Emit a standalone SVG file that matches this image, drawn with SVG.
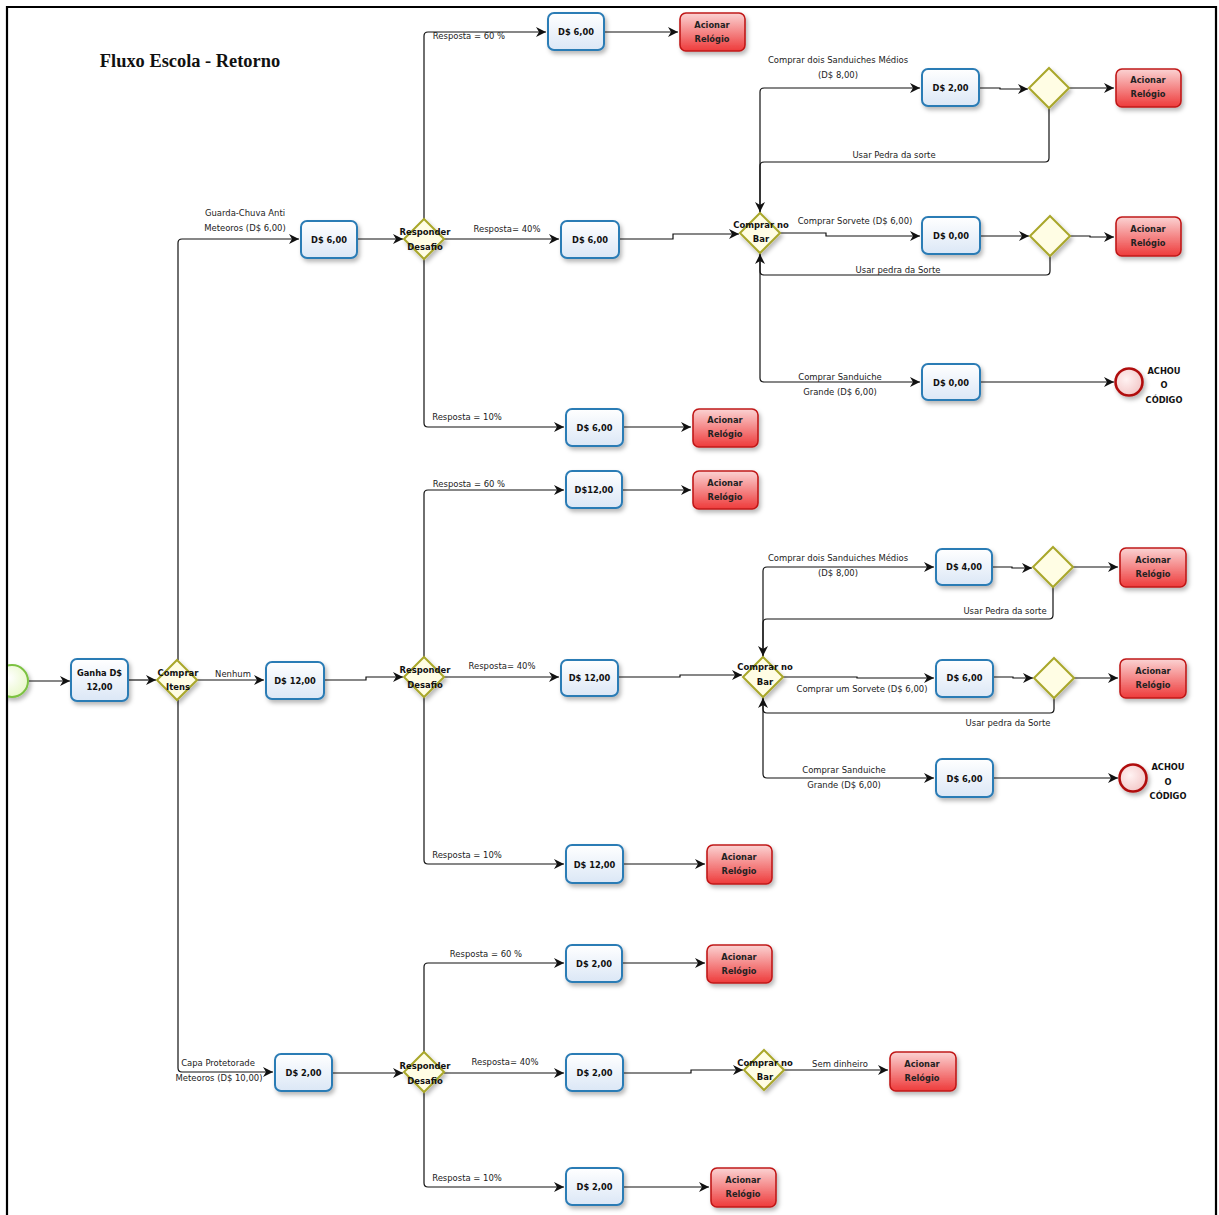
<svg xmlns="http://www.w3.org/2000/svg" width="1219" height="1215" viewBox="0 0 1219 1215">
<defs>
<linearGradient id="gTask" x1="0" y1="0" x2="0" y2="1"><stop offset="0" stop-color="#ffffff"/><stop offset="1" stop-color="#dbe7f6"/></linearGradient>
<linearGradient id="gRed" x1="0" y1="0" x2="0" y2="1"><stop offset="0" stop-color="#fbd3d3"/><stop offset="1" stop-color="#ee3a3a"/></linearGradient>
<radialGradient id="gStart" cx="0.4" cy="0.4" r="0.7"><stop offset="0" stop-color="#ffffff"/><stop offset="1" stop-color="#e6f7c4"/></radialGradient>
<radialGradient id="gEnd" cx="0.4" cy="0.4" r="0.7"><stop offset="0" stop-color="#fff2f2"/><stop offset="1" stop-color="#f2c4c4"/></radialGradient>
<filter id="sh" x="-20%" y="-20%" width="150%" height="160%"><feDropShadow dx="2" dy="3" stdDeviation="2" flood-color="#000" flood-opacity="0.28"/></filter>
<marker id="arr" viewBox="0 0 10 10" refX="10" refY="5" markerWidth="10" markerHeight="10" markerUnits="userSpaceOnUse" orient="auto"><path d="M0,0 L10,5 L0,10 L3,5 z" fill="#111"/></marker>
<clipPath id="frameClip"><rect x="8" y="8" width="1208" height="1207"/></clipPath>
</defs>
<style>
.task{fill:url(#gTask);stroke:#2b7bb5;stroke-width:2}
.red{fill:url(#gRed);stroke:#c01818;stroke-width:1.6}
.gw{fill:#fffde4;stroke:#a9a72b;stroke-width:2}
.tt{font-family:"DejaVu Sans Condensed","Liberation Sans",sans-serif;font-weight:bold;font-size:9.2px;fill:#111;text-anchor:middle}
.tr{font-family:"DejaVu Sans Condensed","Liberation Sans",sans-serif;font-weight:bold;font-size:9.2px;fill:#222;text-anchor:middle}
.lbl{font-family:"DejaVu Sans Condensed","Liberation Sans",sans-serif;font-size:9.4px;fill:#222;text-anchor:middle}
.gt{font-family:"DejaVu Sans Condensed","Liberation Sans",sans-serif;font-weight:bold;font-size:9.4px;fill:#111;text-anchor:middle}
.c{fill:none;stroke:#111;stroke-width:1.2;marker-end:url(#arr)}
</style>
<rect width="1219" height="1215" fill="#fff"/>
<g id="frame" fill="none" stroke="#000" stroke-width="2.2">
<path d="M7,1215 V7 H1216 V1215"/>
</g>
<text id="title" x="190" y="67" font-family="Liberation Serif,serif" font-weight="bold" font-size="18.4" text-anchor="middle" fill="#111">Fluxo Escola - Retorno</text>

<g id="connectors">
<path class="c" d="M29,681 H70"/>
<path class="c" d="M128,680 H156"/>
<path class="c" d="M178,660 V243 Q178,239 182,239 H299"/>
<path class="c" d="M197,680 H264"/>
<path class="c" d="M178,700 V1068 Q178,1072 182,1072 H273"/>
<path class="c" d="M357,239 H403"/>
<path class="c" d="M424,219 V36 Q424,32 428,32 H546"/>
<path class="c" d="M604,32 H678"/>
<path class="c" d="M444,239 H559"/>
<path class="c" d="M619,239 H673 V234 H739"/>
<path class="c" d="M424,259 V423 Q424,427 428,427 H564"/>
<path class="c" d="M623,427 H691"/>
<path class="c" d="M760,213 V92 Q760,88 764,88 H920"/>
<path class="c" d="M979,88 H1000 V89 H1028"/>
<path class="c" d="M1069,88 H1114"/>
<path class="c" d="M1049,108 V158 Q1049,162 1045,162 H764 Q760,162 760,166 V212"/>
<path class="c" d="M780,233 H826 V236 H920"/>
<path class="c" d="M980,236 H1029"/>
<path class="c" d="M1070,236 H1090 V237 H1114"/>
<path class="c" d="M1050,256 V271 Q1050,275 1046,275 H764 Q760,275 760,271 V254"/>
<path class="c" d="M760,253 V378 Q760,382 764,382 H920"/>
<path class="c" d="M980,382 H1114"/>
<path class="c" d="M324,680 H366 V677 H403"/>
<path class="c" d="M424,657 V494 Q424,490 428,490 H564"/>
<path class="c" d="M622,490 H691"/>
<path class="c" d="M444,677 H559"/>
<path class="c" d="M618,677 H680 V675 H742"/>
<path class="c" d="M424,697 V860 Q424,864 428,864 H564"/>
<path class="c" d="M623,864 H705"/>
<path class="c" d="M763,657 V571 Q763,567 767,567 H934"/>
<path class="c" d="M992,567 H1012 V568 H1032"/>
<path class="c" d="M1073,567 H1118"/>
<path class="c" d="M1053,587 V615 Q1053,619 1049,619 H767 Q763,619 763,623 V656"/>
<path class="c" d="M783,677 H857 V678 H934"/>
<path class="c" d="M993,677 H1013 V678 H1033"/>
<path class="c" d="M1074,678 H1118"/>
<path class="c" d="M1054,698 V709 Q1054,713 1050,713 H767 Q763,713 763,709 V698"/>
<path class="c" d="M763,697 V774 Q763,778 767,778 H934"/>
<path class="c" d="M993,778 H1118"/>
<path class="c" d="M332,1073 H403"/>
<path class="c" d="M424,1052 V967 Q424,963 428,963 H564"/>
<path class="c" d="M622,963 H705"/>
<path class="c" d="M444,1073 H564"/>
<path class="c" d="M623,1073 H691 V1070 H743"/>
<path class="c" d="M784,1070 H888"/>
<path class="c" d="M424,1092 V1183 Q424,1187 428,1187 H564"/>
<path class="c" d="M623,1187 H709"/>
</g>

<g id="labels">
<text class="lbl" x="245" y="216">Guarda-Chuva Anti</text>
<text class="lbl" x="245" y="231">Meteoros (D$ 6,00)</text>
<text class="lbl" x="233" y="677">Nenhum</text>
<text class="lbl" x="218" y="1066">Capa Protetorade</text>
<text class="lbl" x="219" y="1081">Meteoros (D$ 10,00)</text>
<text class="lbl" x="469" y="39">Resposta = 60 %</text>
<text class="lbl" x="507" y="232">Resposta=  40%</text>
<text class="lbl" x="467" y="420">Resposta = 10%</text>
<text class="lbl" x="838" y="63">Comprar dois Sanduiches Médios</text>
<text class="lbl" x="838" y="78">(D$ 8,00)</text>
<text class="lbl" x="894" y="158">Usar Pedra da sorte</text>
<text class="lbl" x="855" y="224">Comprar Sorvete (D$ 6,00)</text>
<text class="lbl" x="898" y="273">Usar pedra da Sorte</text>
<text class="lbl" x="840" y="380">Comprar Sanduiche</text>
<text class="lbl" x="840" y="395">Grande (D$ 6,00)</text>
<text class="lbl" x="469" y="487">Resposta = 60 %</text>
<text class="lbl" x="502" y="669">Resposta=  40%</text>
<text class="lbl" x="467" y="858">Resposta = 10%</text>
<text class="lbl" x="838" y="561">Comprar dois Sanduiches Médios</text>
<text class="lbl" x="838" y="576">(D$ 8,00)</text>
<text class="lbl" x="1005" y="614">Usar Pedra da sorte</text>
<text class="lbl" x="862" y="692">Comprar um Sorvete (D$ 6,00)</text>
<text class="lbl" x="1008" y="726">Usar pedra da Sorte</text>
<text class="lbl" x="844" y="773">Comprar Sanduiche</text>
<text class="lbl" x="844" y="788">Grande (D$ 6,00)</text>
<text class="lbl" x="486" y="957">Resposta = 60 %</text>
<text class="lbl" x="505" y="1065">Resposta=  40%</text>
<text class="lbl" x="840" y="1067">Sem dinheiro</text>
<text class="lbl" x="467" y="1181">Resposta = 10%</text>
</g>

<g id="start"><circle cx="12" cy="681" r="16" fill="url(#gStart)" stroke="#7cc242" stroke-width="2" clip-path="url(#frameClip)" filter="url(#sh)"/></g>
<g id="ganha"><rect class="task" x="71" y="659" width="57" height="42" rx="6" filter="url(#sh)"/><text class="tt" x="99.5" y="676">Ganha D$</text><text class="tt" x="99.5" y="690">12,00</text></g>
<g id="gw_comprar_itens"><path class="gw" d="M177,660 L197,680 L177,700 L157,680 Z" filter="url(#sh)"/><text class="gt" x="178" y="676">Comprar</text><text class="gt" x="178" y="690">Itens</text></g>

<g id="t_top_guarda"><rect class="task" x="301" y="221" width="56" height="37" rx="6" filter="url(#sh)"/><text class="tt" x="329" y="243">D$ 6,00</text></g>
<g id="gw_resp1"><path class="gw" d="M424,219 L444,239 L424,259 L404,239 Z" filter="url(#sh)"/><text class="gt" x="425" y="235">Responder</text><text class="gt" x="425" y="250">Desafio</text></g>
<g id="t1_60"><rect class="task" x="548" y="13" width="56" height="37" rx="6" filter="url(#sh)"/><text class="tt" x="576" y="35">D$ 6,00</text></g>
<g id="r1_60"><rect class="red" x="680" y="13" width="65" height="38" rx="6" filter="url(#sh)"/><text class="tr" x="712" y="28">Acionar</text><text class="tr" x="712" y="42">Relógio</text></g>
<g id="t1_40"><rect class="task" x="561" y="221" width="58" height="37" rx="6" filter="url(#sh)"/><text class="tt" x="590" y="243">D$ 6,00</text></g>
<g id="t1_10"><rect class="task" x="566" y="409" width="57" height="37" rx="6" filter="url(#sh)"/><text class="tt" x="594.5" y="431">D$ 6,00</text></g>
<g id="r1_10"><rect class="red" x="693" y="409" width="65" height="38" rx="6" filter="url(#sh)"/><text class="tr" x="725" y="423">Acionar</text><text class="tr" x="725" y="437">Relógio</text></g>
<g id="gw_bar1"><path class="gw" d="M760,213 L780,233 L760,253 L740,233 Z" filter="url(#sh)"/><text class="gt" x="761" y="228">Comprar no</text><text class="gt" x="761" y="242">Bar</text></g>
<g id="t1_sand"><rect class="task" x="922" y="69" width="57" height="37" rx="6" filter="url(#sh)"/><text class="tt" x="950.5" y="91">D$ 2,00</text></g>
<g id="gw1_sand"><path class="gw" d="M1049,68 L1069,88 L1049,108 L1029,88 Z" filter="url(#sh)"/></g>
<g id="r1_sand"><rect class="red" x="1116" y="69" width="65" height="38" rx="6" filter="url(#sh)"/><text class="tr" x="1148" y="83">Acionar</text><text class="tr" x="1148" y="97">Relógio</text></g>
<g id="t1_sorv"><rect class="task" x="922" y="217" width="58" height="37" rx="6" filter="url(#sh)"/><text class="tt" x="951" y="239">D$ 0,00</text></g>
<g id="gw1_sorv"><path class="gw" d="M1050,216 L1070,236 L1050,256 L1030,236 Z" filter="url(#sh)"/></g>
<g id="r1_sorv"><rect class="red" x="1116" y="217" width="65" height="39" rx="6" filter="url(#sh)"/><text class="tr" x="1148" y="232">Acionar</text><text class="tr" x="1148" y="246">Relógio</text></g>
<g id="t1_grande"><rect class="task" x="922" y="364" width="58" height="36" rx="6" filter="url(#sh)"/><text class="tt" x="951" y="386">D$ 0,00</text></g>
<g id="end1"><circle cx="1129" cy="382" r="13.5" fill="url(#gEnd)" stroke="#b01010" stroke-width="2.6" filter="url(#sh)"/><text class="tt" x="1164" y="374">ACHOU</text><text class="tt" x="1164" y="388">O</text><text class="tt" x="1164" y="403">CÓDIGO</text></g>

<g id="t_nenhum"><rect class="task" x="266" y="662" width="58" height="37" rx="6" filter="url(#sh)"/><text class="tt" x="295" y="684">D$ 12,00</text></g>
<g id="gw_resp2"><path class="gw" d="M424,657 L444,677 L424,697 L404,677 Z" filter="url(#sh)"/><text class="gt" x="425" y="673">Responder</text><text class="gt" x="425" y="688">Desafio</text></g>
<g id="t2_60"><rect class="task" x="566" y="471" width="56" height="37" rx="6" filter="url(#sh)"/><text class="tt" x="594" y="493">D$12,00</text></g>
<g id="r2_60"><rect class="red" x="693" y="471" width="65" height="38" rx="6" filter="url(#sh)"/><text class="tr" x="725" y="486">Acionar</text><text class="tr" x="725" y="500">Relógio</text></g>
<g id="t2_40"><rect class="task" x="561" y="660" width="57" height="36" rx="6" filter="url(#sh)"/><text class="tt" x="589.5" y="681">D$ 12,00</text></g>
<g id="t2_10"><rect class="task" x="566" y="845" width="57" height="38" rx="6" filter="url(#sh)"/><text class="tt" x="594.5" y="868">D$ 12,00</text></g>
<g id="r2_10"><rect class="red" x="707" y="845" width="65" height="39" rx="6" filter="url(#sh)"/><text class="tr" x="739" y="860">Acionar</text><text class="tr" x="739" y="874">Relógio</text></g>
<g id="gw_bar2"><path class="gw" d="M763,657 L783,677 L763,697 L743,677 Z" filter="url(#sh)"/><text class="gt" x="765" y="670">Comprar no</text><text class="gt" x="765" y="685">Bar</text></g>
<g id="t2_sand"><rect class="task" x="936" y="549" width="56" height="36" rx="6" filter="url(#sh)"/><text class="tt" x="964" y="570">D$ 4,00</text></g>
<g id="gw2_sand"><path class="gw" d="M1053,547 L1073,567 L1053,587 L1033,567 Z" filter="url(#sh)"/></g>
<g id="r2_sand"><rect class="red" x="1120" y="548" width="66" height="39" rx="6" filter="url(#sh)"/><text class="tr" x="1153" y="563">Acionar</text><text class="tr" x="1153" y="577">Relógio</text></g>
<g id="t2_sorv"><rect class="task" x="936" y="660" width="57" height="37" rx="6" filter="url(#sh)"/><text class="tt" x="964.5" y="681">D$ 6,00</text></g>
<g id="gw2_sorv"><path class="gw" d="M1054,658 L1074,678 L1054,698 L1034,678 Z" filter="url(#sh)"/></g>
<g id="r2_sorv"><rect class="red" x="1120" y="659" width="66" height="39" rx="6" filter="url(#sh)"/><text class="tr" x="1153" y="674">Acionar</text><text class="tr" x="1153" y="688">Relógio</text></g>
<g id="t2_grande"><rect class="task" x="936" y="759" width="57" height="38" rx="6" filter="url(#sh)"/><text class="tt" x="964.5" y="782">D$ 6,00</text></g>
<g id="end2"><circle cx="1133" cy="778" r="13.5" fill="url(#gEnd)" stroke="#b01010" stroke-width="2.6" filter="url(#sh)"/><text class="tt" x="1168" y="770">ACHOU</text><text class="tt" x="1168" y="785">O</text><text class="tt" x="1168" y="799">CÓDIGO</text></g>

<g id="t_capa"><rect class="task" x="275" y="1054" width="57" height="37" rx="6" filter="url(#sh)"/><text class="tt" x="303.5" y="1076">D$ 2,00</text></g>
<g id="gw_resp3"><path class="gw" d="M424,1052 L444,1072 L424,1092 L404,1072 Z" filter="url(#sh)"/><text class="gt" x="425" y="1069">Responder</text><text class="gt" x="425" y="1084">Desafio</text></g>
<g id="t3_60"><rect class="task" x="566" y="945" width="56" height="37" rx="6" filter="url(#sh)"/><text class="tt" x="594" y="967">D$ 2,00</text></g>
<g id="r3_60"><rect class="red" x="707" y="945" width="65" height="38" rx="6" filter="url(#sh)"/><text class="tr" x="739" y="960">Acionar</text><text class="tr" x="739" y="974">Relógio</text></g>
<g id="t3_40"><rect class="task" x="566" y="1054" width="57" height="37" rx="6" filter="url(#sh)"/><text class="tt" x="594.5" y="1076">D$ 2,00</text></g>
<g id="gw_bar3"><path class="gw" d="M764,1050 L784,1070 L764,1090 L744,1070 Z" filter="url(#sh)"/><text class="gt" x="765" y="1066">Comprar no</text><text class="gt" x="765" y="1080">Bar</text></g>
<g id="r3_bar"><rect class="red" x="890" y="1052" width="66" height="39" rx="6" filter="url(#sh)"/><text class="tr" x="922" y="1067">Acionar</text><text class="tr" x="922" y="1081">Relógio</text></g>
<g id="t3_10"><rect class="task" x="566" y="1168" width="57" height="37" rx="6" filter="url(#sh)"/><text class="tt" x="594.5" y="1190">D$ 2,00</text></g>
<g id="r3_10"><rect class="red" x="711" y="1168" width="65" height="39" rx="6" filter="url(#sh)"/><text class="tr" x="743" y="1183">Acionar</text><text class="tr" x="743" y="1197">Relógio</text></g>
</svg>
